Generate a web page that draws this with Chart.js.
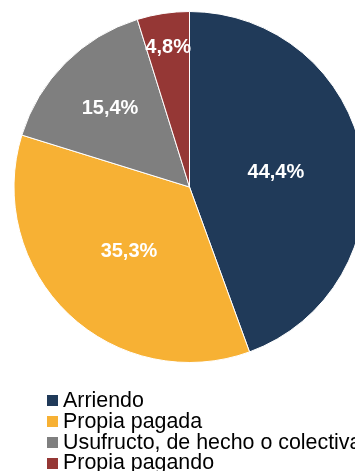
<!DOCTYPE html>
<html>
<head>
<meta charset="utf-8">
<script src="https://cdn.jsdelivr.net/npm/chart.js@4"></script>
<style>
  html, body { margin: 0; padding: 0; background: #fff; overflow: hidden; width: 355px; height: 471px; }
  #wrap { position: relative; width: 355px; height: 471px; overflow: hidden; }
  #pie { position: absolute; left: 0; top: 0; }
  #legend { position: absolute; left: 47px; top: 390px; white-space: nowrap;
    font-family: "Liberation Sans", Arial, sans-serif; font-size: 21.4px; line-height: 20.8px; color: #000; }
  #legend .item { display: flex; align-items: center; height: 20.8px; }
  #legend .box { width: 11px; height: 11px; margin-right: 5px; margin-top: 1px; flex: none; }
</style>
</head>
<body>
<div id="wrap">
  <canvas id="pie" width="379" height="471"></canvas>
  <div id="legend"></div>
</div>
<script>
document.addEventListener('DOMContentLoaded', function() {
  // Data
  const categories = ['Arriendo', 'Propia pagada', 'Usufructo, de hecho o colectiva', 'Propia pagando'];
  const shares = [44.4, 35.3, 15.4, 4.8];
  const colors = ['#203A59', '#F7B134', '#7F7F7F', '#953735'];

  // how far out each label sits (fraction of radius)
  const labelRadius = [0.5, 0.5, 0.64, 0.81];

  // Draw the percentage labels inside slices
  const sliceLabels = {
      id: 'sliceLabels',
      afterDatasetsDraw(chart) {
          const ctx = chart.ctx;
          const meta = chart.getDatasetMeta(0);
          ctx.save();
          ctx.fillStyle = '#fff';
          ctx.font = 'bold 20px "Liberation Sans", Arial, sans-serif';
          ctx.textAlign = 'center';
          ctx.textBaseline = 'middle';
          meta.data.forEach((arc, i) => {
              const mid = (arc.startAngle + arc.endAngle) / 2;
              const r = arc.outerRadius * labelRadius[i];
              const x = arc.x + Math.cos(mid) * r;
              const y = arc.y + Math.sin(mid) * r;
              ctx.fillText(shares[i].toFixed(1).replace('.', ',') + '%', x, y + 1);
          });
          ctx.restore();
      }
  };

  new Chart(document.getElementById('pie').getContext('2d'), {
      type: 'pie',
      data: {
          labels: categories,
          datasets: [{
              data: shares,
              backgroundColor: colors,
              borderColor: '#ffffff',
              borderWidth: 1
          }]
      },
      options: {
          responsive: false,
          animation: false,
          layout: { padding: { top: 11, bottom: 108, left: 13, right: 13 } },
          plugins: {
              legend: { display: false },
              tooltip: { enabled: false }
          }
      },
      plugins: [sliceLabels]
  });

  // Legend built from the same arrays
  const legend = document.getElementById('legend');
  categories.forEach((name, i) => {
      const item = document.createElement('div');
      item.className = 'item';
      item.innerHTML = `<span class="box" style="background:${colors[i]}"></span><span>${name}</span>`;
      legend.appendChild(item);
  });
});
</script>
</body>
</html>
